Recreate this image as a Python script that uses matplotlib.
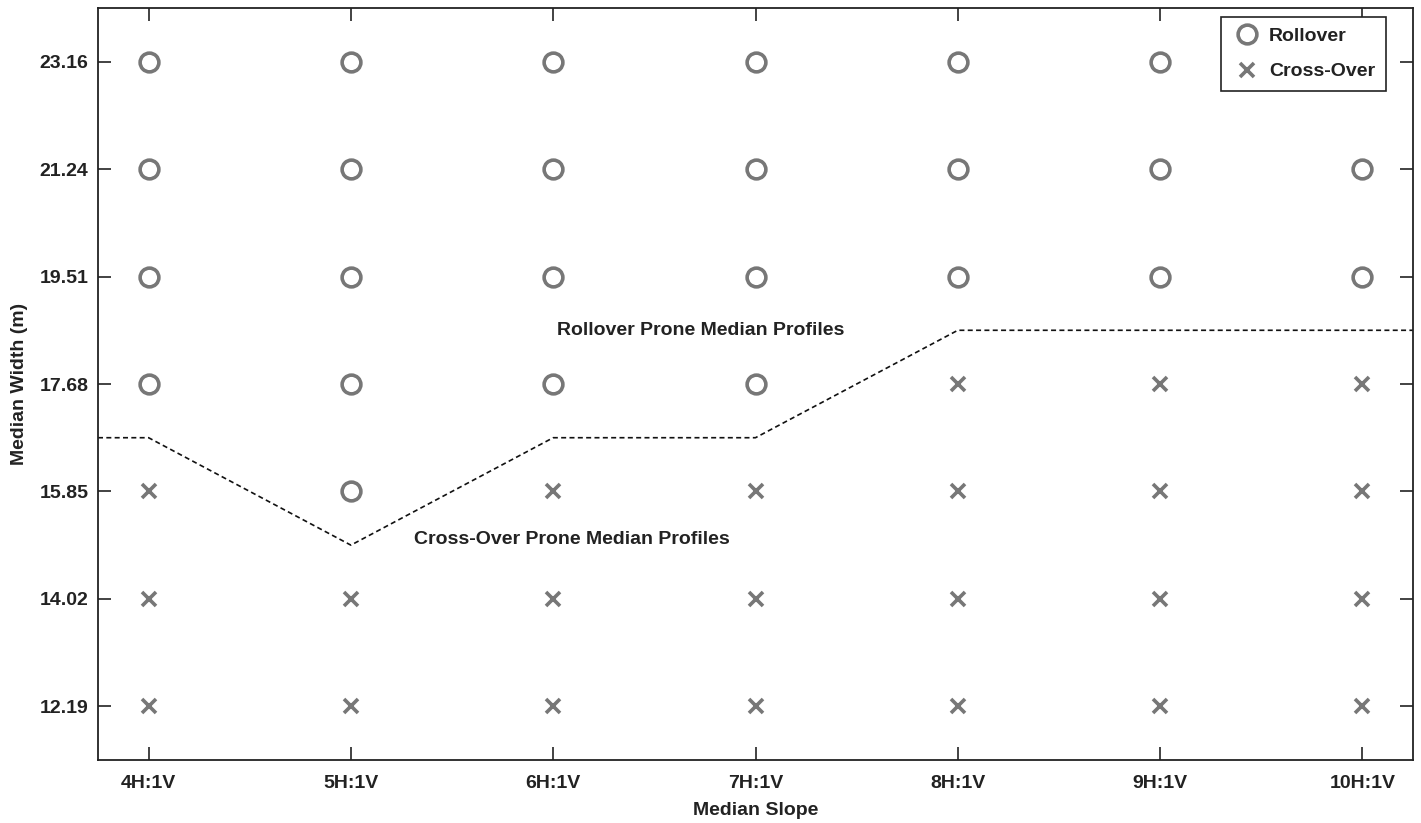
import matplotlib
matplotlib.use("Agg")
import matplotlib.pyplot as plt

plt.rcParams['font.family'] = ['Liberation Sans', 'DejaVu Sans']
plt.rcParams['font.weight'] = 'bold'

slopes = ["4H:1V", "5H:1V", "6H:1V", "7H:1V", "8H:1V", "9H:1V", "10H:1V"]
slope_pos = [4, 5, 6, 7, 8, 9, 10]
widths = ["12.19", "14.02", "15.85", "17.68", "19.51", "21.24", "23.16"]

# lowest width index (1-based) at which rollover occurs for each slope
rollover_start = [4, 3, 4, 4, 5, 5, 5]
# boundary line (in width-index units)
boundary_x = [3.75, 4, 5, 6, 7, 8, 9, 10, 10.25]
boundary_y = [3.5, 3.5, 2.5, 3.5, 3.5, 4.5, 4.5, 4.5, 4.5]

roll_x, roll_y, cross_x, cross_y = [], [], [], []
for s, start in zip(slope_pos, rollover_start):
    for w in range(1, len(widths) + 1):
        if w >= start:
            roll_x.append(s); roll_y.append(w)
        else:
            cross_x.append(s); cross_y.append(w)

fig = plt.figure(figsize=(14.21, 8.23), dpi=100)
ax = fig.add_axes([98/1421, 63/823, (1413-98)/1421, (760-8)/823])

FS = 14
txt = '#222222'
grey = '#777777'
ax.plot(roll_x, roll_y, linestyle='none', marker='o', markersize=13.5,
        markerfacecolor='none', markeredgecolor=grey, markeredgewidth=2.6,
        label='Rollover')
ax.plot(cross_x, cross_y, linestyle='none', marker='x', markersize=10,
        markeredgecolor=grey, markeredgewidth=2.6, label='Cross-Over')
ax.plot(boundary_x, boundary_y, linestyle=(0, (3, 2)), color='#111111', linewidth=1.2)

ax.text(6.73, 4.5, "Rollover Prone Median Profiles", ha='center', va='center',
        fontsize=FS, fontweight='bold', color=txt)
ax.text(6.09, 2.55, "Cross-Over Prone Median Profiles", ha='center', va='center',
        fontsize=FS, fontweight='bold', color=txt)

ax.set_xlim(3.75, 10.25)
ax.set_ylim(0.5, 7.5)
ax.set_xticks(slope_pos)
ax.set_xticklabels(slopes)
ax.set_yticks(range(1, len(widths) + 1))
ax.set_yticklabels(widths)
ax.tick_params(direction='in', length=9.5, width=1.2, top=True, right=True,
               labelsize=FS, colors=txt)
ax.tick_params(axis='x', pad=10.5)
ax.tick_params(axis='y', pad=7)
for lab in ax.get_xticklabels() + ax.get_yticklabels():
    lab.set_fontweight('bold')
for sp in ax.spines.values():
    sp.set_linewidth(1.3)
    sp.set_color(txt)

ax.set_xlabel("Median Slope", fontsize=FS, fontweight='bold', color=txt, labelpad=7.5)
ax.set_ylabel("Median Width (m)", fontsize=FS, fontweight='bold', color=txt, labelpad=8)

leg = ax.legend(loc='upper right', bbox_to_anchor=((1386-98)/1315, (760-17)/752),
                borderaxespad=0, fontsize=FS,
                frameon=True, fancybox=False, framealpha=1, edgecolor=txt,
                borderpad=0.55, handletextpad=0.35, labelspacing=0.9, handlelength=1.6)
leg.get_frame().set_linewidth(1.2)
for t in leg.get_texts():
    t.set_fontweight('bold'); t.set_color(txt)

fig.savefig("out.png", dpi=100)
